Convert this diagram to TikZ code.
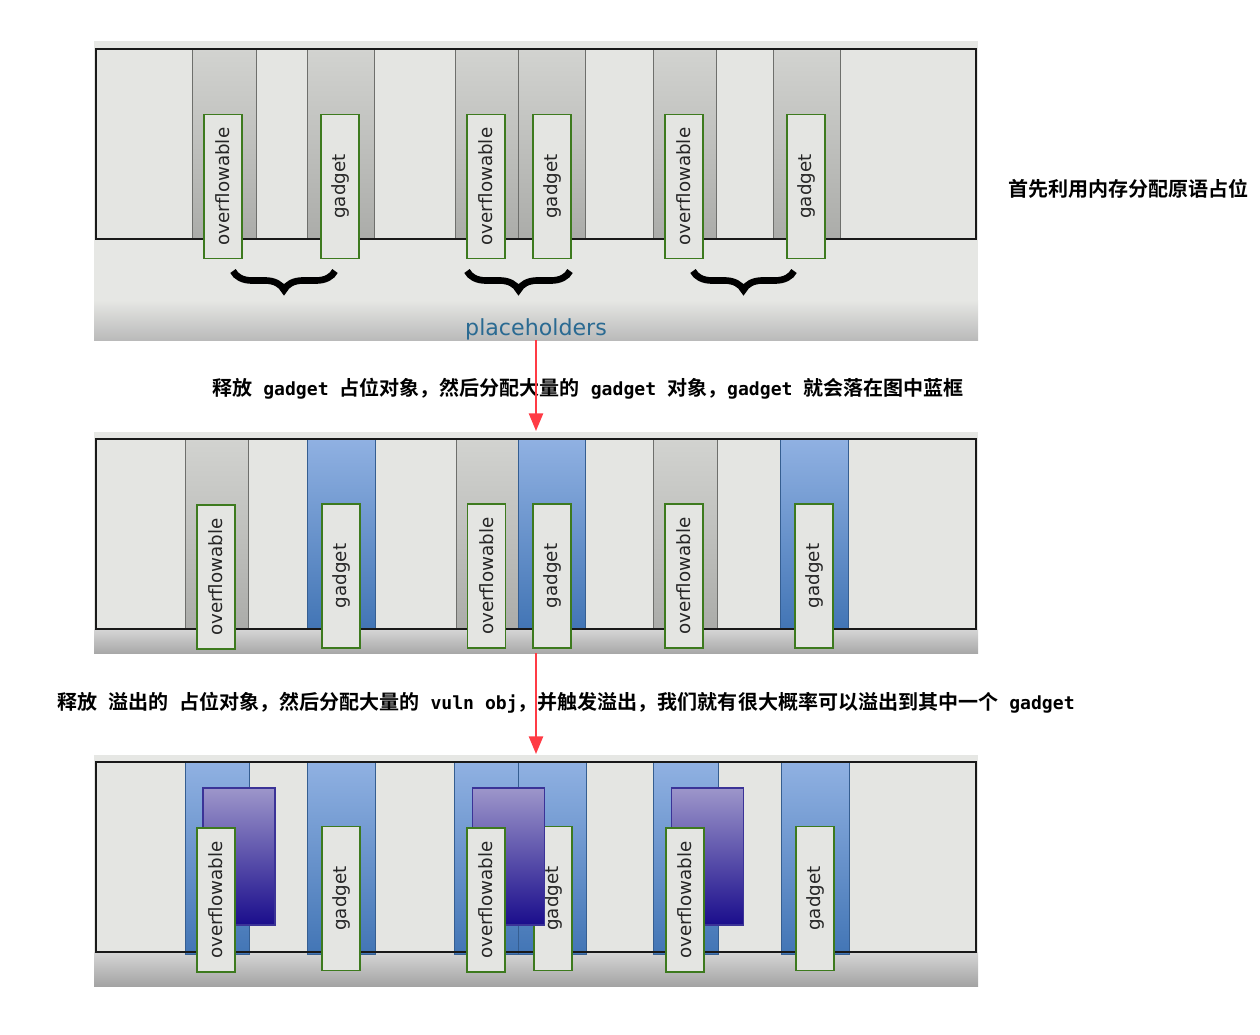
\documentclass[tikz,border=0pt]{standalone}
\usepackage{fontspec}
\setmainfont{DejaVu Sans}
\newfontfamily\cjkfont{Noto Sans CJK SC Bold}
\newfontfamily\codefont{DejaVu Sans Mono}
\usetikzlibrary{positioning,arrows.meta,decorations.pathreplacing}
\definecolor{panelbg}{HTML}{E6E7E4}
\definecolor{cellgray}{HTML}{E4E5E2}
\definecolor{slottop}{HTML}{D2D3D0}
\definecolor{slotbottom}{HTML}{ABACA9}
\definecolor{slotline}{HTML}{6E6F6C}
\definecolor{bluetop}{HTML}{90B1E2}
\definecolor{bluebottom}{HTML}{4275B5}
\definecolor{vulntop}{HTML}{9D96CA}
\definecolor{vulnbottom}{HTML}{1A0D8C}
\definecolor{vulnline}{HTML}{3B3397}
\definecolor{taggreen}{HTML}{3D7A1E}
\definecolor{holdertext}{HTML}{2A6A92}
\definecolor{arrowred}{HTML}{FF3B45}
\newcommand{\cd}[1]{{\codefont\bfseries\fontsize{10.3}{13}\selectfont #1}}

\begin{document}
\begin{tikzpicture}[x=0.02cm, y=-0.02cm,
    tag/.style={draw=taggreen, line width=1pt, fill=cellgray, rotate=90, inner sep=0pt,
      minimum width=2.88cm, minimum height=0.76cm, text=black!85, font=\fontsize{10.4}{12}\selectfont},
    vulnbox/.style={draw=vulnline, line width=0.6pt, top color=vulntop, bottom color=vulnbottom,
      inner sep=0pt, minimum width=1.44cm, minimum height=2.74cm},
    slotgray/.style={top color=slottop, bottom color=slotbottom, draw=slotline, line width=0.5pt},
    slotblue/.style={top color=bluetop, bottom color=bluebottom, draw=bluebottom!80!black, line width=0.3pt},
    frame/.style={draw=black!90, line width=1pt},
    holderbrace/.style={decorate, decoration={brace, amplitude=0.38cm}, line width=3.8pt},
    note/.style={anchor=west, inner sep=0pt, font=\cjkfont\fontsize{11.4}{13}\selectfont},
    redarrow/.style={-{Triangle[length=10pt,width=8pt]}, draw=arrowred, line width=1.2pt}]
  \useasboundingbox (0,0) rectangle (1260,1034);

  % panel 1: placeholders
  \fill[panelbg] (94,41) rectangle (978,340);
  \shade[top color=panelbg, bottom color=black!27] (94,300) rectangle (978,340);
  \fill[cellgray] (96,49) rectangle (976,239);
  \shade[slotgray] (192,49) rectangle (256,239);
  \shade[slotgray] (307,49) rectangle (374,239);
  \shade[slotgray] (455,49) rectangle (518,239);
  \shade[slotgray] (518,49) rectangle (585,239);
  \shade[slotgray] (653,49) rectangle (716,239);
  \shade[slotgray] (773,49) rectangle (840,239);
  \draw[frame] (96,49) rectangle (976,239);
  \node[tag] (o11) at (223,186.5) {overflowable};
  \node[tag] (g11) at (340,186.5) {gadget};
  \node[tag] (o12) at (486,186.5) {overflowable};
  \node[tag] (g12) at (552,186.5) {gadget};
  \node[tag] (o13) at (684,186.5) {overflowable};
  \node[tag] (g13) at (806,186.5) {gadget};
  \draw[holderbrace] (335,271) -- (233,271);
  \draw[holderbrace] (570,271) -- (467,271);
  \draw[holderbrace] (794,271) -- (693,271);
  \node[text=holdertext, font=\fontsize{12.6}{14}\selectfont, inner sep=0pt] (holders) at (536,329) {placeholders};
  \node[note] (step1) at (1008,189) {首先利用内存分配原语占位};

  % panel 2: gadgets land in the freed slots
  \fill[panelbg] (94,432) rectangle (978,653);
  \shade[top color=black!16, bottom color=black!34] (94,629) rectangle (978,653);
  \fill[cellgray] (96,439) rectangle (976,629);
  \shade[slotgray] (185,439) rectangle (248,629);
  \shade[slotblue] (307,439) rectangle (375,629);
  \shade[slotgray] (456,439) rectangle (518,629);
  \shade[slotblue] (518,439) rectangle (585,629);
  \shade[slotgray] (653,439) rectangle (717,629);
  \shade[slotblue] (780,439) rectangle (848,629);
  \draw[frame] (96,439) rectangle (976,629);
  \node[tag] (o21) at (216,577) {overflowable};
  \node[tag] (g21) at (341,576) {gadget};
  \node[tag] (o22) at (486.5,576) {overflowable};
  \node[tag] (g22) at (552,576) {gadget};
  \node[tag] (o23) at (684,576) {overflowable};
  \node[tag] (g23) at (814,576) {gadget};
  \node[note] (step2) at (212,389) {释放\cd{ gadget }占位对象，然后分配大量的\cd{ gadget }对象，\cd{gadget }就会落在图中蓝框};

  % panel 3: vuln objects overflow into gadgets
  \fill[panelbg] (94,755) rectangle (978,986);
  \shade[top color=black!16, bottom color=black!36] (94,952) rectangle (978,986);
  \fill[cellgray] (96,762) rectangle (976,952);
  \shade[slotblue] (185,762) rectangle (249,954);
  \shade[slotblue] (307,762) rectangle (375,954);
  \shade[slotblue] (454,762) rectangle (518,954);
  \shade[slotblue] (518,762) rectangle (586,954);
  \shade[slotblue] (653,762) rectangle (718,954);
  \shade[slotblue] (781,762) rectangle (849,954);
  \draw[frame] (96,762) rectangle (976,952);
  \node[tag] (g31) at (341,898.5) {gadget};
  \node[tag] (g32) at (553,898.5) {gadget};
  \node[tag] (g33) at (815,898.5) {gadget};
  \node[vulnbox] (v31) at (239,856.5) {};
  \node[vulnbox] (v32) at (508.5,856.5) {};
  \node[vulnbox] (v33) at (707.5,856.5) {};
  \node[tag] (o31) at (216,900) {overflowable};
  \node[tag] (o32) at (486,900) {overflowable};
  \node[tag] (o33) at (685,900) {overflowable};
  \node[note] (step3) at (57,703) {释放\cd{ }溢出的\cd{ }占位对象，然后分配大量的\cd{ vuln obj}，并触发溢出，我们就有很大概率可以溢出到其中一个\cd{ gadget}};

  % arrows between the panels
  \coordinate (p1s) at (536,340);
  \coordinate (p2n) at (536,431);
  \coordinate (p2s) at (536,653);
  \coordinate (p3n) at (536,754);
  \draw[redarrow] (p1s) -- (p2n);
  \draw[redarrow] (p2s) -- (p3n);
\end{tikzpicture}
\end{document}
